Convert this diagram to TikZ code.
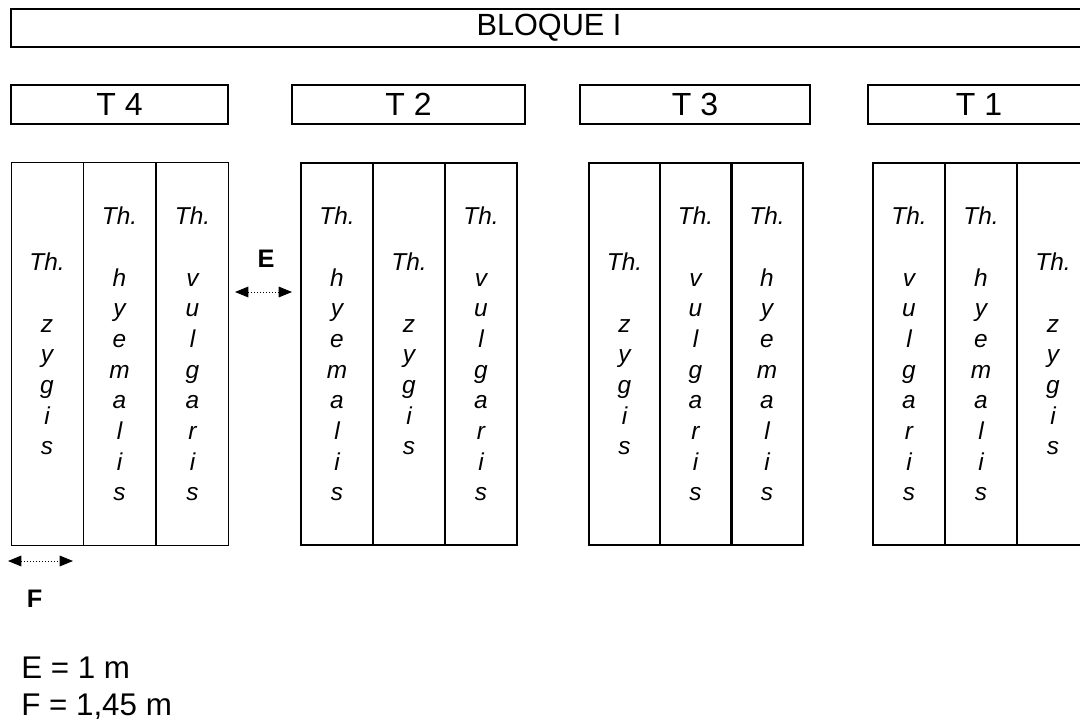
\documentclass[tikz,border=0pt]{standalone}
\usepackage{fontspec}
\setmainfont{Liberation Sans}
\usetikzlibrary{arrows.meta}
\newcommand{\zygtxt}{Th.\\[23pt]z\\y\\g\\i\\s}
\newcommand{\hyetxt}{Th.\\[23pt]h\\y\\e\\m\\a\\l\\i\\s}
\newcommand{\vultxt}{Th.\\[23pt]v\\u\\l\\g\\a\\r\\i\\s}
\tikzset{
  col/.style={draw, line width=1.5pt, minimum width=54pt, minimum height=286.5pt, inner sep=0pt, align=center, font=\fontsize{18.3}{23}\selectfont\itshape},
  colthin/.style={col, line width=0.75pt},
  tbox/.style={draw, line width=1.5pt, minimum height=29.25pt, inner sep=0pt, font=\fontsize{24}{28}\selectfont},
  dimarrow/.style={{Triangle[length=10pt,width=8pt]}-{Triangle[length=10pt,width=8pt]}, line width=0.75pt, dash pattern=on 0.75pt off 1.5pt},
  dimlabel/.style={font=\fontsize{19}{22}\selectfont\bfseries, inner sep=0pt},
  legend/.style={font=\fontsize{23.5}{28}\selectfont, inner sep=0pt, anchor=base west}
}
\begin{document}
\begin{tikzpicture}[x=0.75pt, y=-0.75pt]
\useasboundingbox (0,0) rectangle (1080,720);
% Block header
\node[tbox, minimum width=807pt, minimum height=28.5pt, font=\fontsize{23}{26}\selectfont] (bloque) at (549,28) {BLOQUE I};
% Treatment headers
\node[tbox, minimum width=162.75pt] (t4) at (119.5,104.5) {T 4};
\node[tbox, minimum width=174.75pt] (t2) at (408.5,104.5) {T 2};
\node[tbox, minimum width=172.5pt] (t3) at (695,104.5) {T 3};
\node[tbox, minimum width=166.5pt] (t1) at (979,104.5) {T 1};
% Group T4
\node[colthin] (a1) at (47,354) {\zygtxt};
\node[colthin] (a2) at (119.5,354) {\hyetxt};
\node[colthin] (a3) at (192.5,354) {\vultxt};
% Group T2
\node[col] (b1) at (337,354) {\hyetxt};
\node[col] (b2) at (409,354) {\zygtxt};
\node[col] (b3) at (481,354) {\vultxt};
% Group T3
\node[col, minimum width=53.25pt] (c1) at (624.5,354) {\zygtxt};
\node[col, minimum width=53.25pt] (c2) at (695.5,354) {\vultxt};
\node[col, minimum width=53.25pt] (c3) at (767,354) {\hyetxt};
% Group T1
\node[col] (d1) at (909,354) {\vultxt};
\node[col] (d2) at (981,354) {\hyetxt};
\node[col] (d3) at (1053,354) {\zygtxt};
% Dimension E
\node[dimlabel] (elab) at (266,259) {E};
\coordinate (e1) at (235,292);
\coordinate (e2) at (292,292);
\draw[dimarrow] (e1) -- (e2);
% Dimension F
\coordinate (f1) at (8,561);
\coordinate (f2) at (73,561);
\draw[dimarrow] (f1) -- (f2);
\node[dimlabel] (flab) at (34.5,598.5) {F};
% Legend
\node[legend] (leg1) at (21,678) {E = 1 m};
\node[legend] (leg2) at (21,715) {F = 1,45 m};
\end{tikzpicture}
\end{document}
